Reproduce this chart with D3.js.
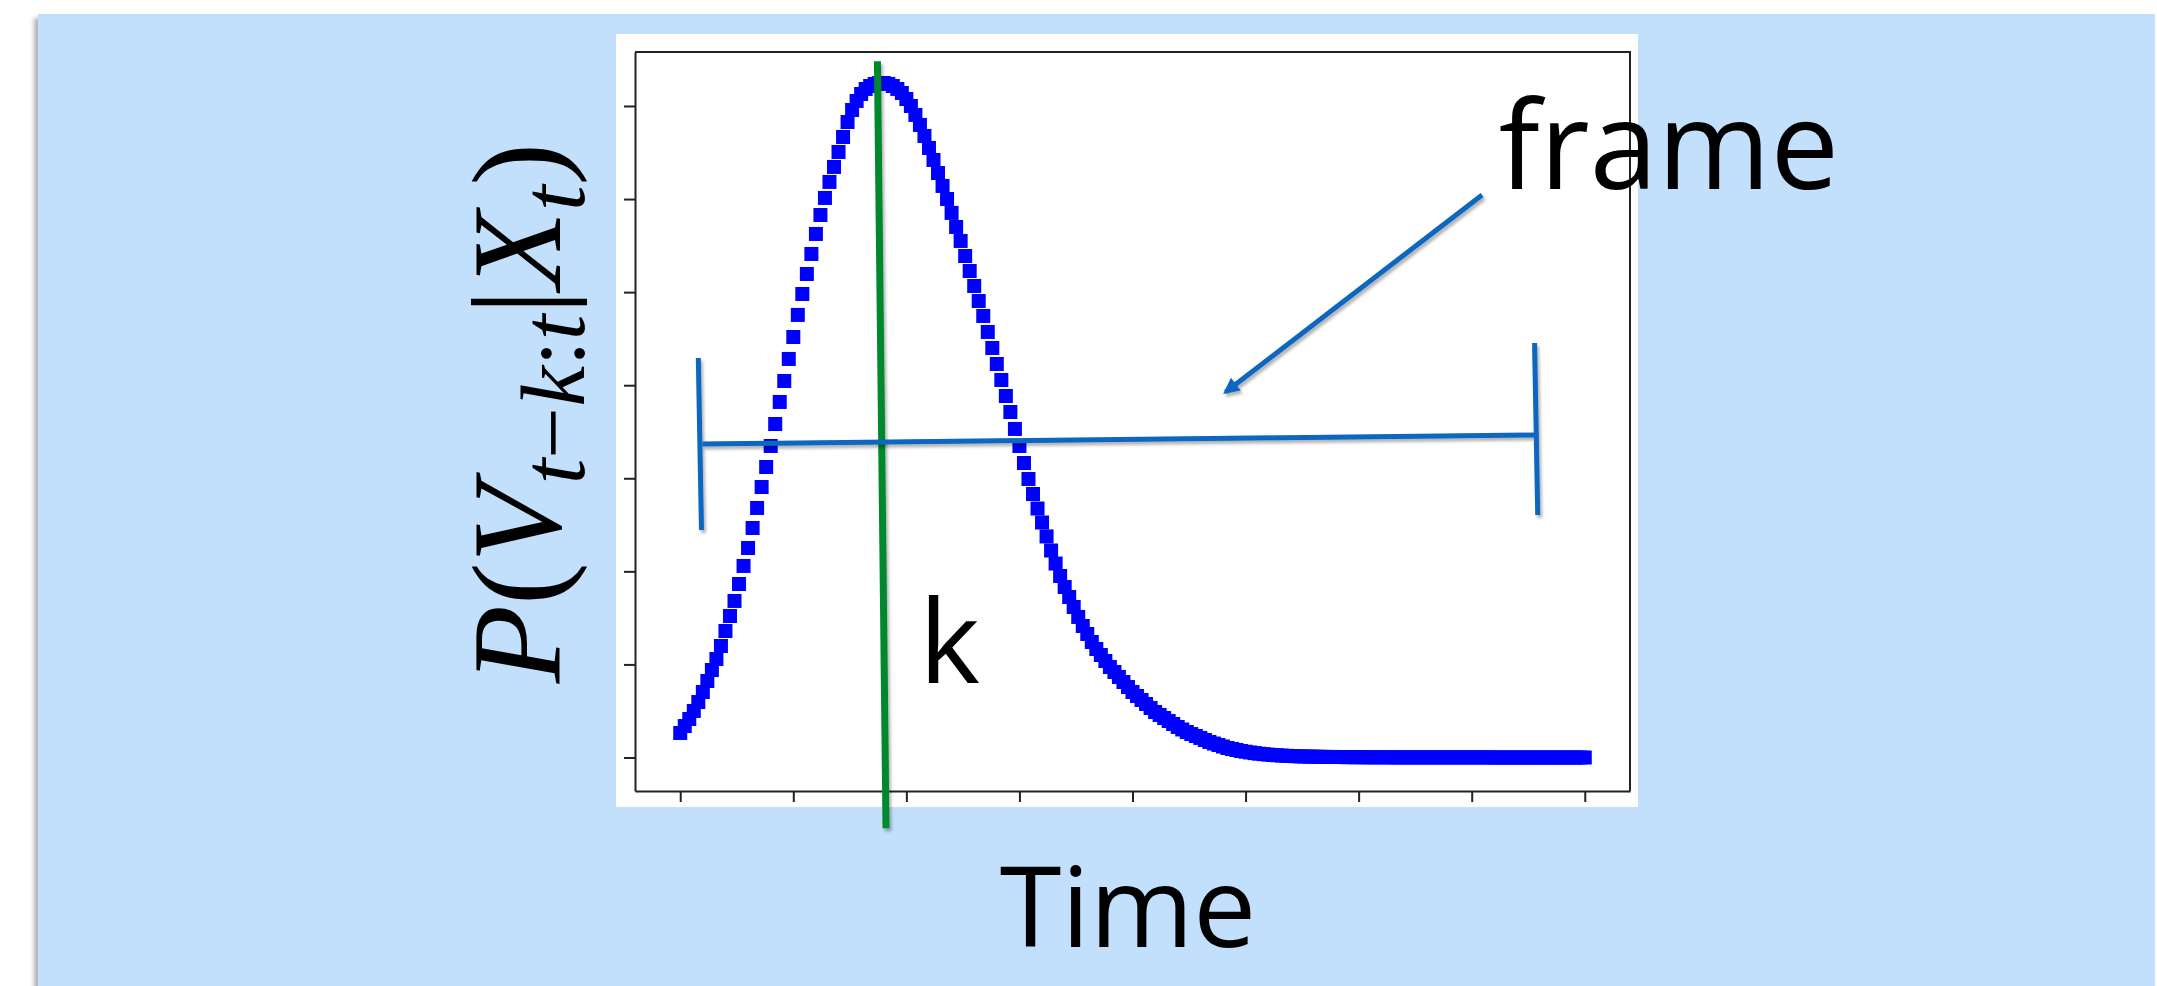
<!DOCTYPE html>
<html>
<head>
<meta charset="utf-8">
<script src="https://cdn.jsdelivr.net/npm/d3@7"></script>
<style>
  body { margin: 0; background: #fff; }
  svg { display: block; }
</style>
</head>
<body>
<div id="chart"></div>
<script>
const xTicks = [0, 25, 50, 75, 100, 125, 150, 175, 200];
const yTicks = [0, 0.01, 0.02, 0.03, 0.04, 0.05, 0.06, 0.07];

const probValues = [
    0.00263, 0.00338, 0.00414, 0.00500, 0.00596, 0.00704, 0.00822, 0.00940, 0.01058, 0.01198,
    0.01359, 0.01520, 0.01682, 0.01864, 0.02058, 0.02251, 0.02466, 0.02681, 0.02906, 0.03121,
    0.03347, 0.03583, 0.03820, 0.04045, 0.04282, 0.04518, 0.04755, 0.04980, 0.05195, 0.05410,
    0.05625, 0.05829, 0.06012, 0.06184, 0.06345, 0.06506, 0.06667, 0.06828, 0.06957, 0.07054,
    0.07129, 0.07183, 0.07215, 0.07237, 0.07247, 0.07247, 0.07237, 0.07215, 0.07183, 0.07140,
    0.07075, 0.07000, 0.06904, 0.06796, 0.06678, 0.06549, 0.06420, 0.06280, 0.06141, 0.06001,
    0.05851, 0.05700, 0.05550, 0.05388, 0.05227, 0.05066, 0.04905, 0.04744, 0.04572, 0.04400,
    0.04228, 0.04056, 0.03884, 0.03712, 0.03530, 0.03347, 0.03164, 0.02992, 0.02831, 0.02675,
    0.02525, 0.02375, 0.02224, 0.02084, 0.01950, 0.01832, 0.01724, 0.01617, 0.01510, 0.01413,
    0.01327, 0.01241, 0.01166, 0.01101, 0.01037, 0.00972, 0.00919, 0.00865, 0.00811, 0.00757,
    0.00704, 0.00661, 0.00618, 0.00575, 0.00532, 0.00489, 0.00457, 0.00424, 0.00392, 0.00360,
    0.00328, 0.00301, 0.00274, 0.00252, 0.00231, 0.00210, 0.00188, 0.00167, 0.00150, 0.00134,
    0.00118, 0.00102, 0.00091, 0.00081, 0.00070, 0.00062, 0.00054, 0.00047, 0.00041, 0.00036,
    0.00031, 0.00027, 0.00024, 0.00021, 0.00018, 0.00016, 0.00014, 0.00012, 0.00011, 0.00010,
    0.00009, 0.00008, 0.00007, 0.00006, 0.00006, 0.00005, 0.00005, 0.00004, 0.00004, 0.00003,
    0.00003, 0.00003, 0.00002, 0.00002, 0.00002, 0.00002, 0.00002, 0.00002, 0.00001, 0.00001,
    0.00001, 0.00001, 0.00001, 0.00001, 0.00001, 0.00001, 0.00001, 0.00001, 0.00001, 0.00001,
    0.00001, 0.00001, 0.00001, 0.00001, 0.00001, 0.00001, 0.00001, 0.00001, 0.00001, 0.00001,
    0, 0, 0, 0, 0, 0, 0, 0, 0, 0,
    0, 0, 0, 0, 0, 0, 0, 0, 0, 0,
    0
];

// Hand-drawn annotations, given in data units (time step, probability)
const peakLine = [[43.6, 0.0748], [45.5, -0.0076]];
const frameSpan = [[4.9, 0.03368], [189.0, 0.03465]];
const frameCaps = [
    [[4.0, 0.04293], [4.7, 0.02445]],
    [[188.9, 0.04454], [189.6, 0.02606]]
];
const frameArrow = [[177.3, 0.06044], [120.6, 0.03927]];
const kLabelAt = [52.8, 0.0080];
const frameLabelAt = [181.0, 0.0611];

const W = 2157, H = 986;

const svg = d3.select("#chart")
    .append("svg")
    .attr("width", W)
    .attr("height", H);

const defs = svg.append("defs");

defs.append("filter")
    .attr("id", "panelShadow")
    .attr("filterUnits", "userSpaceOnUse")
    .attr("x", 0).attr("y", 0).attr("width", W).attr("height", H)
    .append("feDropShadow")
    .attr("dx", -4).attr("dy", 4).attr("stdDeviation", 2)
    .attr("flood-color", "#000").attr("flood-opacity", 0.3);

defs.append("filter")
    .attr("id", "lineShadow")
    .attr("filterUnits", "userSpaceOnUse")
    .attr("x", 0).attr("y", 0).attr("width", W).attr("height", H)
    .append("feDropShadow")
    .attr("dx", 2).attr("dy", 3).attr("stdDeviation", 1.6)
    .attr("flood-color", "#000").attr("flood-opacity", 0.3);

defs.append("marker")
    .attr("id", "arrowHead")
    .attr("markerUnits", "userSpaceOnUse")
    .attr("viewBox", "0 0 10 10")
    .attr("refX", 8).attr("refY", 5)
    .attr("markerWidth", 18).attr("markerHeight", 16)
    .attr("orient", "auto")
    .append("path")
    .attr("d", "M0,0 L10,5 L0,10 Z")
    .attr("fill", "#0866BF");

// Light blue slide panel
svg.append("rect")
    .attr("x", 38).attr("y", 14)
    .attr("width", W - 40).attr("height", H)
    .attr("fill", "#C2E0FC")
    .attr("filter", "url(#panelShadow)");

// White picture of the plot
svg.append("rect")
    .attr("x", 616).attr("y", 34)
    .attr("width", 1022).attr("height", 773)
    .attr("fill", "#fff");

const margin = {left: 635, right: 1630, top: 52, bottom: 791};

const xScale = d3.scaleLinear()
    .domain([-10, 210])
    .range([margin.left, margin.right]);

const yScale = d3.scaleLinear()
    .domain([-0.0036, 0.0758])
    .range([margin.bottom, margin.top]);

const frameColor = "#222";

// Axes, no tick labels
const xAxis = svg.append("g")
    .attr("transform", `translate(0,${margin.bottom})`)
    .call(d3.axisBottom(xScale).tickValues(xTicks).tickFormat("").tickSize(11).tickSizeOuter(0));

const yAxis = svg.append("g")
    .attr("transform", `translate(${margin.left},0)`)
    .call(d3.axisLeft(yScale).tickValues(yTicks).tickFormat("").tickSize(11).tickSizeOuter(0));

[xAxis, yAxis].forEach(g => {
    g.selectAll("path, line").attr("stroke", frameColor).attr("stroke-width", 2);
});

// top and right border of the axes box
svg.append("path")
    .attr("d", `M${margin.left},${margin.top}H${margin.right}V${margin.bottom}`)
    .attr("fill", "none")
    .attr("stroke", frameColor)
    .attr("stroke-width", 2);

// Square markers
const size = 14;
svg.append("g")
    .selectAll("rect")
    .data(probValues)
    .join("rect")
    .attr("x", (d, i) => xScale(i) - size / 2)
    .attr("y", d => yScale(d) - size / 2)
    .attr("width", size)
    .attr("height", size)
    .attr("fill", "#0000FF");

const line = d3.line()
    .x(d => xScale(d[0]))
    .y(d => yScale(d[1]));

// Green line at the peak
svg.append("path")
    .attr("d", line(peakLine))
    .attr("stroke", "#00882F")
    .attr("stroke-width", 7)
    .attr("fill", "none")
    .attr("filter", "url(#lineShadow)");

// Blue frame bracket
const blue = "#0866BF";
const bracket = svg.append("g").attr("filter", "url(#lineShadow)");
bracket.append("path")
    .attr("d", line(frameSpan))
    .attr("stroke", blue).attr("stroke-width", 5).attr("fill", "none");
frameCaps.forEach(c => {
    bracket.append("path")
        .attr("d", line(c))
        .attr("stroke", blue).attr("stroke-width", 5).attr("fill", "none");
});
bracket.append("path")
    .attr("d", line(frameArrow))
    .attr("stroke", blue).attr("stroke-width", 5).attr("fill", "none")
    .attr("marker-end", "url(#arrowHead)");

// Text labels
const sans = '"Open Sans", "Noto Sans", sans-serif';

svg.append("text")
    .attr("x", xScale(kLabelAt[0]))
    .attr("y", yScale(kLabelAt[1]))
    .style("font-family", sans)
    .style("font-size", "116px")
    .attr("fill", "#000")
    .text("k");

svg.append("text")
    .attr("x", xScale(frameLabelAt[0]))
    .attr("y", yScale(frameLabelAt[1]))
    .style("font-family", sans)
    .style("font-size", "122px")
    .attr("fill", "#000")
    .text("frame");

svg.append("text")
    .attr("x", 1128)
    .attr("y", 947)
    .attr("text-anchor", "middle")
    .style("font-family", sans)
    .style("font-size", "112px")
    .attr("fill", "#000")
    .text("Time");

// y label P(V_{t-k:t} | X_t)
const ylab = svg.append("text")
    .attr("transform", "translate(560,413) rotate(-90)")
    .attr("text-anchor", "middle")
    .style("font-family", '"Liberation Serif", "DejaVu Serif", serif')
    .style("font-size", "128px")
    .attr("fill", "#000");

ylab.append("tspan").style("font-style", "italic").text("P");
ylab.append("tspan").text("(");
ylab.append("tspan").style("font-style", "italic").text("V");
const sub1 = ylab.append("tspan").attr("dy", 24).style("font-size", "92px");
sub1.append("tspan").style("font-style", "italic").text("t");
sub1.append("tspan").text("\u2212");
sub1.append("tspan").style("font-style", "italic").text("k");
sub1.append("tspan").text(":");
sub1.append("tspan").style("font-style", "italic").text("t");
ylab.append("tspan").attr("dy", -24).text("|");
ylab.append("tspan").style("font-style", "italic").text("X");
ylab.append("tspan").attr("dy", 24).style("font-size", "92px").style("font-style", "italic").text("t");
ylab.append("tspan").attr("dy", -24).text(")");
</script>
</body>
</html>
